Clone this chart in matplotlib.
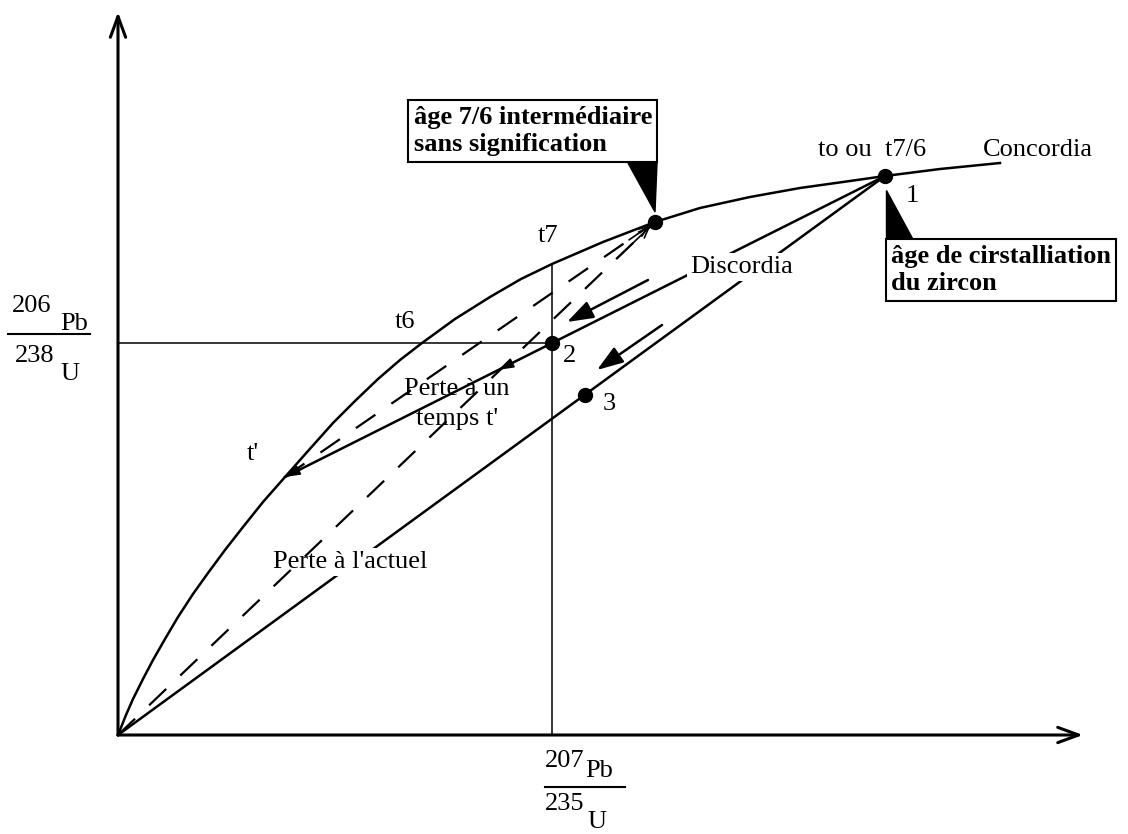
import matplotlib
matplotlib.use('Agg')
import matplotlib.pyplot as plt
from matplotlib.patches import Polygon
import numpy as np

plt.rcParams['font.family'] = ['Liberation Serif', 'DejaVu Serif']
plt.rcParams['lines.scale_dashes'] = False

# --- Données (unités du schéma, origine au coin des axes) ---
concordia_x = [0, 8, 15, 25, 35, 47, 60, 75, 90, 107, 125, 145, 167, 190, 215, 237, 260,
               282, 304, 337, 372, 403, 434, 485, 537, 582, 632, 682, 732, 767, 822, 882]
concordia_y = [0, 20, 36, 56, 75, 96, 118, 141, 162, 185, 208, 233, 258, 284, 312, 334, 356,
               375, 392, 416, 438, 456, 471, 493, 513, 527, 538, 547, 554, 559, 566, 572]

origin  = np.array([0, 0])
t_prime = np.array([167, 258])   # perte à un temps t'
t7      = np.array([434, 471])
p_inter = np.array([537, 513])   # âge 7/6 intermédiaire
p1      = np.array([767, 559])   # âge de cristallisation
p2      = np.array([434, 392])
p3      = np.array([467, 340])

# flèches de dérive le long des discordias (départ, arrivée)
drift_start = [(530, 455), (544, 410)]
drift_end   = [(449, 413), (479, 365)]

FS = 19

fig = plt.figure(figsize=(11.28, 8.34), dpi=100)
ax = fig.add_axes([0, 0, 1, 1])
ax.set_xlim(-118, 1010)
ax.set_ylim(-99, 735)
ax.axis('off')

# axes fléchés
axis_arrow = dict(arrowstyle='->,head_length=1.5,head_width=0.55', lw=2.2,
                  color='black', shrinkA=0, shrinkB=0, mutation_scale=10)
ax.annotate('', xy=(0, 723), xytext=(0, 0), arrowprops=axis_arrow)
ax.annotate('', xy=(965, 0), xytext=(0, 0), arrowprops=axis_arrow)

# Concordia
ax.plot(concordia_x, concordia_y, 'k-', lw=1.8, solid_joinstyle='round', zorder=2)

# Discordias
ax.plot([t_prime[0], p1[0]], [t_prime[1], p1[1]], 'k-', lw=1.8, zorder=2)
ax.plot([origin[0], p1[0]], [origin[1], p1[1]], 'k-', lw=1.8, zorder=2)

# droites en tirets vers l'âge intermédiaire
for start in (origin, t_prime):
    ax.plot([start[0], p_inter[0]], [start[1], p_inter[1]], color='black',
            lw=1.6, linestyle=(0, (17, 14)), zorder=4)
    ax.annotate('', xy=p_inter, xytext=start + 0.93 * (p_inter - start),
                arrowprops=dict(arrowstyle='->,head_length=0.7,head_width=0.3', lw=1.2,
                                color='black', shrinkA=0, shrinkB=5, mutation_scale=10),
                zorder=4)

# repères t6 / t7
ax.plot([0, p2[0]], [p2[1], p2[1]], 'k-', lw=1.1, zorder=2)
ax.plot([t7[0], t7[0]], [0, t7[1]], 'k-', lw=1.1, zorder=2)

# petites pointes de flèche sur la discordia t' - 1
small_head = dict(arrowstyle='-|>,head_length=0.9,head_width=0.3', lw=1.2,
                  color='black', shrinkA=0, shrinkB=0, mutation_scale=10)
ax.annotate('', xy=t_prime, xytext=t_prime + 0.06 * (p2 - t_prime), arrowprops=small_head)
ax.annotate('', xy=p2 + 0.2 * (t_prime - p2), xytext=p2 + 0.12 * (t_prime - p2),
            arrowprops=small_head)

# flèches de dérive
for s, e in zip(drift_start, drift_end):
    ax.annotate('', xy=e, xytext=s,
                arrowprops=dict(arrowstyle='-|>,head_length=1.6,head_width=0.55', lw=1.8,
                                color='black', shrinkA=0, shrinkB=0, mutation_scale=10),
                zorder=3)

# points
pts = np.array([p_inter, p1, p2, p3])
ax.plot(pts[:, 0], pts[:, 1], 'ko', ms=10, zorder=6)

# étiquettes
txt = dict(fontsize=FS, color='black', va='baseline', ha='left')
ax.text(865, 579, 'Concordia', **txt)
ax.text(700, 579, 'to ou  t7/6', **txt)
ax.text(788, 533, '1', **txt)
ax.text(420, 493, 't7', **txt)
ax.text(277, 407, 't6', **txt)
ax.text(129, 275, "t'", **txt)
ax.text(445, 373, '2', **txt)
ax.text(485, 325, '3', **txt)
ax.text(572, 462, 'Discordia', zorder=5,
        bbox=dict(boxstyle='square,pad=0.1', fc='white', ec='none'), **txt)
ax.text(339, 340, 'Perte à un', fontsize=FS, ha='center', va='baseline', zorder=3)
ax.text(339, 310, "temps t'", fontsize=FS, ha='center', va='baseline', zorder=3)
ax.text(155, 167, "Perte à l'actuel", zorder=3,
        bbox=dict(boxstyle='square,pad=0.1', fc='white', ec='none'), **txt)

# encadrés
box = dict(boxstyle='square,pad=0.2', fc='white', ec='black', lw=1.5)
ax.text(534, 604, 'âge 7/6 intermédiaire\nsans signification', fontsize=FS,
        fontweight='bold', ha='right', va='center', multialignment='left',
        linespacing=1.25, bbox=box, zorder=7)
ax.add_patch(Polygon([(510, 572), (539, 572), (537, 523)], closed=True,
                     fc='black', ec='black', zorder=8))
ax.text(773, 465, 'âge de cirstalliation\ndu zircon', fontsize=FS,
        fontweight='bold', ha='left', va='center', multialignment='left',
        linespacing=1.25, bbox=box, zorder=7)
ax.add_patch(Polygon([(768, 545), (768, 497), (794, 497)], closed=True,
                     fc='black', ec='black', zorder=8))

# titres des axes (rapports isotopiques)
lab = dict(fontsize=FS, va='baseline', ha='left')
ax.text(-106, 423, '206', **lab)
ax.text(-58, 405, 'Pb', **lab)
ax.plot([-110, -28], [401, 401], 'k-', lw=1.5)
ax.text(-103, 373, '238', **lab)
ax.text(-58, 355, 'U', **lab)

ax.text(427, -32, '207', **lab)
ax.text(467, -42, 'Pb', **lab)
ax.plot([427, 507], [-52, -52], 'k-', lw=1.5)
ax.text(427, -75, '235', **lab)
ax.text(469, -93, 'U', **lab)

fig.savefig('out.png', dpi=100)
plt.close(fig)
